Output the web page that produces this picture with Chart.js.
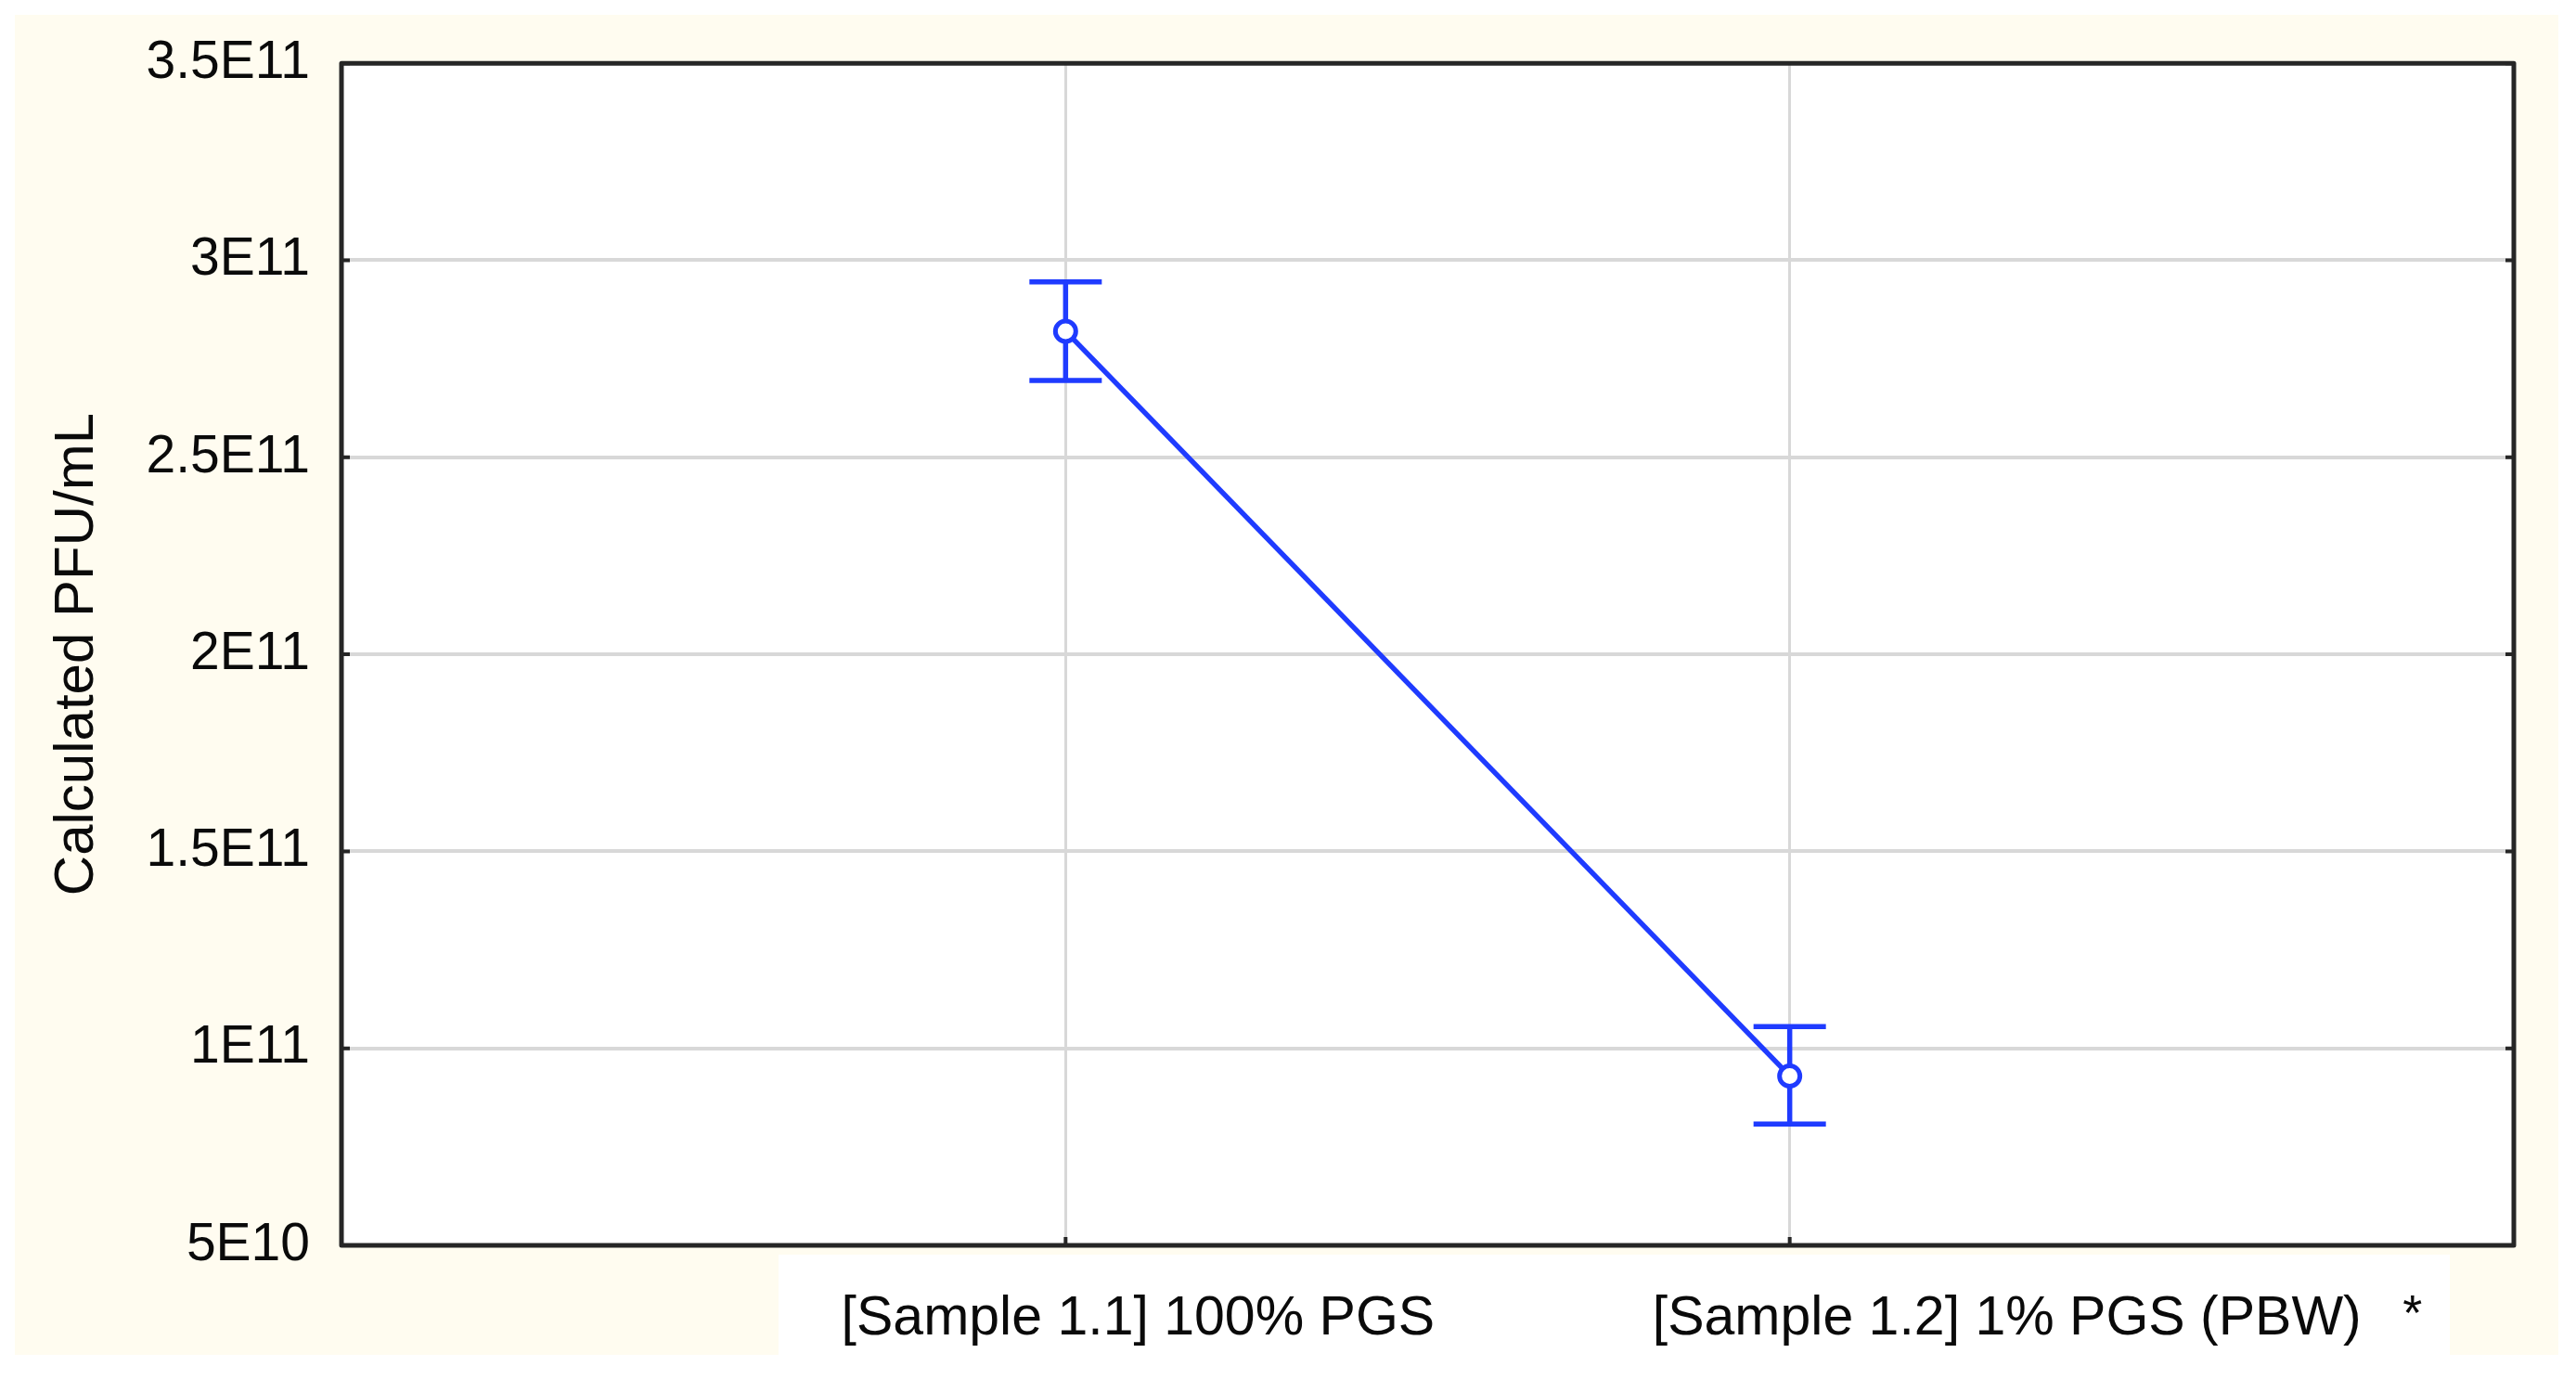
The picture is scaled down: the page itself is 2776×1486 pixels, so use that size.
<!DOCTYPE html>
<html>
<head>
<meta charset="utf-8">
<title>Calculated PFU/mL</title>
<script src="https://cdn.jsdelivr.net/npm/chart.js@4.4.1/dist/chart.umd.min.js"></script>
<style>
  html, body { margin: 0; padding: 0; background: #ffffff; }
  canvas { display: block; }
</style>
</head>
<body>
<canvas id="grafico" width="2776" height="1486"></canvas>
<script>
// datos
const categories = ['[Sample 1.1] 100% PGS', '[Sample 1.2] 1% PGS (PBW)'];
const means = [2.82e11, 0.93e11];
const upper = [2.945e11, 1.055e11];
const lower = [2.695e11, 0.808e11];
const marks = ['', '*'];
const yTicks = [5e10, 1e11, 1.5e11, 2e11, 2.5e11, 3e11, 3.5e11];
const yTickLabels = ['5E10', '1E11', '1.5E11', '2E11', '2.5E11', '3E11', '3.5E11'];

// estilo
const FONT = "'Liberation Sans', Arial, sans-serif";
const BLUE = '#1f3bff';
const CREAM = '#fffcf0';
const labelShift = [0.10, 0.30];
const markShift = 0.86;

const puntos = means.map((v, i) => ({ x: i + 1, y: v }));

// etiquetas del eje x (texto y posicion)
const xlTicks = [];
const xlTexts = [];
categories.forEach((c, i) => {
    xlTicks.push({ value: i + 1 + labelShift[i] });
    xlTexts.push(c);
    if (marks[i]) {
        xlTicks.push({ value: i + 1 + markShift });
        xlTexts.push(marks[i]);
    }
});

const fondo = {
    id: 'fondo',
    beforeDraw(chart) {
        const ctx = chart.ctx;
        const a = chart.chartArea;
        ctx.save();
        ctx.fillStyle = '#ffffff';
        ctx.fillRect(0, 0, chart.width, chart.height);
        ctx.fillStyle = CREAM;
        ctx.fillRect(16, 16, 2741, 1444);
        ctx.fillStyle = '#ffffff';
        ctx.fillRect(839, 1352, 1801, 134);
        ctx.fillRect(a.left, a.top, a.right - a.left, a.bottom - a.top);
        ctx.restore();
    }
};

const barras = {
    id: 'barras',
    beforeDatasetsDraw(chart) {
        const ctx = chart.ctx;
        const x = chart.scales.x;
        const y = chart.scales.y;
        ctx.save();
        ctx.strokeStyle = BLUE;
        ctx.lineWidth = 5.5;
        means.forEach((m, i) => {
            const px = x.getPixelForValue(i + 1);
            const yt = y.getPixelForValue(upper[i]);
            const yb = y.getPixelForValue(lower[i]);
            ctx.beginPath();
            ctx.moveTo(px, yt);
            ctx.lineTo(px, yb);
            ctx.moveTo(px - 39, yt);
            ctx.lineTo(px + 39, yt);
            ctx.moveTo(px - 39, yb);
            ctx.lineTo(px + 39, yb);
            ctx.stroke();
        });
        ctx.restore();
    }
};

const marco = {
    id: 'marco',
    afterDraw(chart) {
        const ctx = chart.ctx;
        const a = chart.chartArea;
        const y = chart.scales.y;
        const x = chart.scales.x;
        ctx.save();
        ctx.strokeStyle = '#262626';
        ctx.lineWidth = 5;
        ctx.lineJoin = 'round';
        ctx.strokeRect(a.left, a.top, a.right - a.left, a.bottom - a.top);
        ctx.lineWidth = 4;
        ctx.beginPath();
        yTicks.forEach(v => {
            const py = y.getPixelForValue(v);
            ctx.moveTo(a.left, py);
            ctx.lineTo(a.left + 9, py);
            ctx.moveTo(a.right, py);
            ctx.lineTo(a.right - 9, py);
        });
        means.forEach((m, i) => {
            const px = x.getPixelForValue(i + 1);
            ctx.moveTo(px, a.bottom);
            ctx.lineTo(px, a.bottom - 9);
        });
        ctx.stroke();
        ctx.restore();
    }
};

new Chart(document.getElementById('grafico'), {
    type: 'line',
    data: {
        datasets: [{
            label: 'PFU/mL',
            data: puntos,
            borderColor: BLUE,
            borderWidth: 5.5,
            backgroundColor: '#ffffff',
            pointRadius: 11,
            pointBorderWidth: 5,
            pointBorderColor: BLUE,
            pointBackgroundColor: '#ffffff',
            tension: 0,
            fill: false
        }]
    },
    options: {
        responsive: false,
        animation: false,
        layout: { padding: { left: 16, top: 67, right: 67, bottom: 0 } },
        plugins: {
            legend: { display: false },
            tooltip: { enabled: false }
        },
        scales: {
            x: {
                type: 'linear',
                min: 0,
                max: 3,
                position: 'bottom',
                afterBuildTicks: s => { s.ticks = categories.map((c, i) => ({ value: i + 1 })); },
                afterFit: s => { s.height = 0; },
                ticks: { display: false },
                grid: { color: '#d8d8d8', lineWidth: 3, drawTicks: false },
                border: { display: false }
            },
            xl: {
                type: 'linear',
                min: 0,
                max: 3,
                position: 'bottom',
                afterBuildTicks: s => { s.ticks = xlTicks.map(t => ({ value: t.value })); },
                afterFit: s => { s.height = 144; },
                grid: { display: false, drawTicks: false },
                border: { display: false },
                ticks: {
                    autoSkip: false,
                    maxRotation: 0,
                    padding: 44,
                    color: '#0a0a0a',
                    font: ctx => (xlTexts[ctx.index] === '*' ? { family: FONT, size: 54 } : { family: FONT, size: 59 }),
                    callback: (v, i) => xlTexts[i]
                }
            },
            y: {
                min: 5e10,
                max: 3.5e11,
                afterBuildTicks: s => { s.ticks = yTicks.map(v => ({ value: v })); },
                afterFit: s => { s.width = 352; },
                grid: { color: '#d8d8d8', lineWidth: 4, drawTicks: false },
                border: { display: false },
                ticks: {
                    padding: 34,
                    color: '#0a0a0a',
                    font: { family: FONT, size: 57 },
                    callback: (v, i) => yTickLabels[i]
                },
                title: {
                    display: true,
                    text: 'Calculated PFU/mL',
                    color: '#0a0a0a',
                    font: { family: FONT, size: 60 },
                    padding: { top: 31, bottom: 0 }
                }
            }
        }
    },
    plugins: [fondo, barras, marco]
});
</script>
</body>
</html>
